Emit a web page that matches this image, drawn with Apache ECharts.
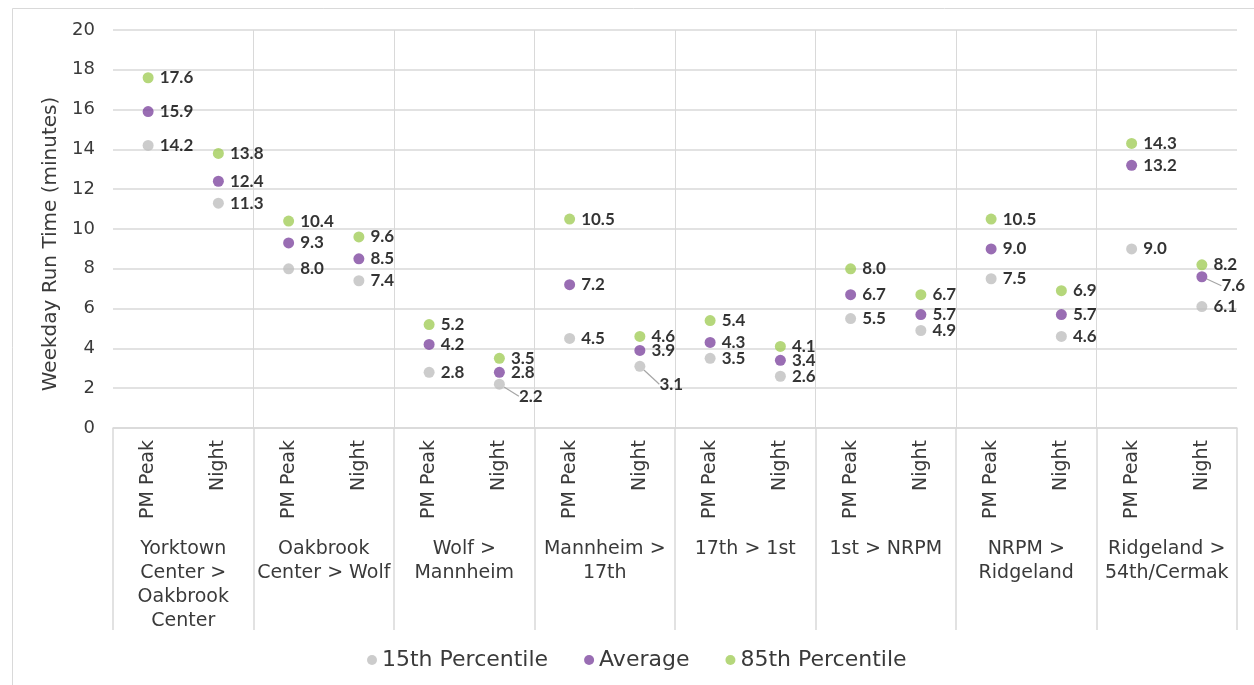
<!DOCTYPE html>
<html>
<head>
<meta charset="utf-8">
<script src="https://cdn.jsdelivr.net/npm/echarts@6/dist/echarts.min.js"></script>
<style>
  html, body { margin: 0; padding: 0; background: #fff; }
  #chart { width: 1254px; height: 685px; }
</style>
</head>
<body>
<div id="chart"></div>
<script>
// Corridor segments (outer axis level) and time periods (inner level)
const segments = [
  'Yorktown\nCenter >\nOakbrook\nCenter',
  'Oakbrook\nCenter > Wolf',
  'Wolf >\nMannheim',
  'Mannheim >\n17th',
  '17th > 1st',
  '1st > NRPM',
  'NRPM >\nRidgeland',
  'Ridgeland >\n54th/Cermak'
];
const periods = ['PM Peak', 'Night'];

// Weekday run times in minutes, ordered PM Peak / Night per segment
const p15 = [14.2, 11.3, 8.0, 7.4, 2.8, 2.2, 4.5, 3.1, 3.5, 2.6, 5.5, 4.9, 7.5, 4.6, 9.0, 6.1];
const avg = [15.9, 12.4, 9.3, 8.5, 4.2, 2.8, 7.2, 3.9, 4.3, 3.4, 6.7, 5.7, 9.0, 5.7, 13.2, 7.6];
const p85 = [17.6, 13.8, 10.4, 9.6, 5.2, 3.5, 10.5, 4.6, 5.4, 4.1, 8.0, 6.7, 10.5, 6.9, 14.3, 8.2];

const yTicks = { min: 0, max: 20, interval: 2 };

const categories = [];
segments.forEach(() => periods.forEach(p => categories.push(p)));

const FONT = 'DejaVu Sans';
const LABEL_FONT = 'Lato';
const TEXT = '#3a3a3a';
const GRID = '#d9d9d9';

// labels that are nudged below their point with a leader line: [seriesName, index] -> offset
const nudged = {
  '15th Percentile': { 5: [8, 12], 7: [8, 18] },
  'Average': { 15: [8, 9] }
};

function makeSeries(name, values, color) {
  const moves = nudged[name] || {};
  return {
    name: name,
    type: 'scatter',
    xAxisIndex: 0,
    symbol: 'circle',
    symbolSize: 11,
    itemStyle: { color: color },
    label: {
      show: true,
      position: 'right',
      distance: 6,
      fontFamily: LABEL_FONT,
      fontWeight: 'bold',
      fontSize: 17,
      color: '#000',
      formatter: p => p.value[1].toFixed(1)
    },
    labelLine: { show: false },
    labelLayout: function (params) {
      const m = moves[params.dataIndex];
      if (m) return { dx: m[0], dy: m[1] };
      return {};
    },
    data: values.map((v, i) => {
      const item = { value: [i, v] };
      if (moves[i]) {
        item.labelLine = { show: true, lineStyle: { color: '#a6a6a6', width: 1.2 } };
      }
      return item;
    })
  };
}

const chart = echarts.init(document.getElementById('chart'), null, { renderer: 'canvas' });

chart.setOption({
  animation: false,
  backgroundColor: '#fff',
  graphic: [{
    type: 'rect',
    shape: { x: 12.5, y: 8.5, width: 1260, height: 700 },
    style: { fill: 'none', stroke: '#d9d9d9', lineWidth: 1 },
    silent: true,
    z: -10
  }],
  grid: { left: 113, right: 17, top: 30, bottom: 257, containLabel: false },
  legend: {
    bottom: 9,
    left: 362,
    itemWidth: 10,
    itemHeight: 10,
    itemGap: 36,
    icon: 'circle',
    textStyle: { fontFamily: FONT, fontSize: 22, color: TEXT },
    data: ['15th Percentile', 'Average', '85th Percentile']
  },
  xAxis: [
    {
      type: 'category',
      data: categories,
      boundaryGap: true,
      position: 'bottom',
      axisLine: { show: true, lineStyle: { color: GRID, width: 1.5 } },
      axisTick: { show: false },
      splitLine: { show: false },
      axisLabel: {
        rotate: 90,
        margin: 12,
        interval: 0,
        fontFamily: FONT,
        fontSize: 19,
        color: TEXT
      }
    },
    {
      type: 'category',
      data: segments,
      boundaryGap: true,
      position: 'bottom',
      offset: 0,
      axisLine: { show: false },
      axisTick: {
        show: true,
        interval: 0,
        length: 202,
        lineStyle: { color: GRID, width: 1.5 }
      },
      splitLine: {
        show: true,
        interval: 0,
        showMinLine: false,
        showMaxLine: false,
        lineStyle: { color: GRID, width: 1 }
      },
      axisLabel: {
        interval: 0,
        margin: 109,
        verticalAlign: 'top',
        lineHeight: 24,
        fontFamily: FONT,
        fontSize: 19,
        color: TEXT
      }
    }
  ],
  yAxis: {
    type: 'value',
    min: yTicks.min,
    max: yTicks.max,
    interval: yTicks.interval,
    name: 'Weekday Run Time (minutes)',
    nameLocation: 'middle',
    nameGap: 51,
    nameRotate: 90,
    nameTextStyle: { fontFamily: FONT, fontSize: 20, color: TEXT, padding: [0, 30, 0, 0] },
    axisLine: { show: false },
    axisTick: { show: false },
    axisLabel: { margin: 18, fontFamily: FONT, fontSize: 18, color: TEXT },
    splitLine: { show: true, lineStyle: { color: GRID, width: 1.5 } }
  },
  series: [
    makeSeries('15th Percentile', p15, '#bfbfbf'),
    makeSeries('Average', avg, '#8049a0'),
    makeSeries('85th Percentile', p85, '#a2cd5a')
  ]
});
</script>
</body>
</html>
